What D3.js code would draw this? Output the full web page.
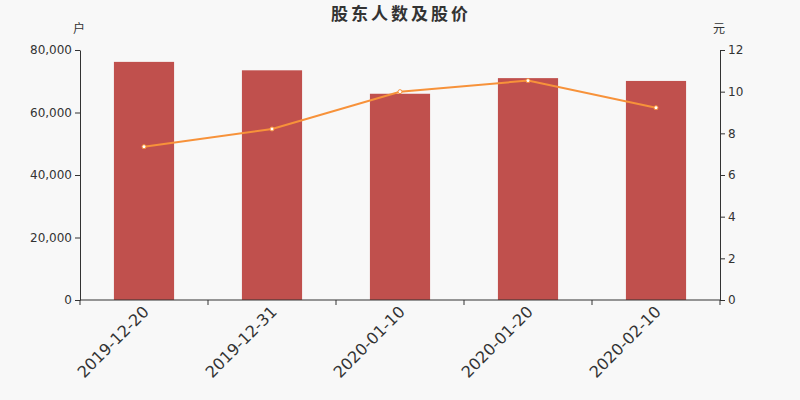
<!DOCTYPE html>
<html>
<head>
<meta charset="utf-8">
<script src="https://cdn.jsdelivr.net/npm/d3@7"></script>
<style>
  body { margin: 0; background: #f8f8f8; }
</style>
</head>
<body>
<svg id="chart" width="800" height="400"></svg>
<script>
// chart data
const dates = ["2019-12-20", "2019-12-31", "2020-01-10", "2020-01-20", "2020-02-10"]
const holders = [76200, 73500, 66000, 71000, 70100]   // 户
const prices = [7.36, 8.21, 10.0, 10.53, 9.23]        // 元
const leftTicks = [0, 20000, 40000, 60000, 80000]
const rightTicks = [0, 2, 4, 6, 8, 10, 12]

const FONT = "'DejaVu Sans', 'Noto Sans CJK SC', sans-serif"

const svg = d3.select("#chart").attr("font-family", FONT)
const m = {top: 50, right: 80, bottom: 100, left: 80}
const w = 800 - m.left - m.right, h = 400 - m.top - m.bottom

svg.append("rect").attr("width", 800).attr("height", 400).attr("fill", "#f8f8f8")

const x = d3.scaleBand().domain(dates).range([0, w]).paddingInner(0.53).paddingOuter(0.265)
const yL = d3.scaleLinear().domain([0, 80000]).range([h, 0])
const yR = d3.scaleLinear().domain([0, 12]).range([h, 0])

const g = svg.append("g").attr("transform", `translate(${m.left},${m.top})`)

// title
svg.append("text").attr("x", 401).attr("y", 20).attr("text-anchor", "middle")
  .attr("font-family", FONT)
  .attr("font-size", 17).attr("font-weight", "bold").attr("fill", "#333")
  .attr("letter-spacing", 3).text("股东人数及股价")

// bars
g.selectAll(".bar").data(holders).enter().append("rect")
  .attr("class", "bar")
  .attr("x", (d, i) => x(dates[i]))
  .attr("y", d => yL(d))
  .attr("width", x.bandwidth())
  .attr("height", d => h - yL(d))
  .attr("fill", "#c0504d")

// price line
const cx = d => x(d) + x.bandwidth() / 2
const line = d3.line().x((d, i) => cx(dates[i])).y(d => yR(d))
g.append("path").datum(prices).attr("d", line)
  .attr("fill", "none").attr("stroke", "#f7923a").attr("stroke-width", 2)
g.selectAll(".pt").data(prices).enter().append("circle")
  .attr("class", "pt")
  .attr("cx", (d, i) => cx(dates[i])).attr("cy", d => yR(d)).attr("r", 2)
  .attr("fill", "#fff").attr("stroke", "#f7923a").attr("stroke-width", 1)

// axes
function styleAxis(sel) {
  sel.attr("font-family", FONT)
  sel.select(".domain").attr("stroke", "#333")
  sel.selectAll(".tick line").attr("stroke", "#333")
  sel.selectAll(".tick text").attr("fill", "#333").attr("font-size", 12)
}

g.append("g")
  .call(d3.axisLeft(yL).tickValues(leftTicks).tickSize(5).tickSizeOuter(0).tickPadding(3).tickFormat(d3.format(",")))
  .call(styleAxis)

g.append("g").attr("transform", `translate(${w},0)`)
  .call(d3.axisRight(yR).tickValues(rightTicks).tickSize(5).tickSizeOuter(0).tickPadding(3))
  .call(styleAxis)

// x axis: ticks at band boundaries
const xb = g.append("g").attr("transform", `translate(0,${h})`).attr("font-family", FONT)
xb.append("line").attr("x1", 0).attr("x2", w).attr("stroke", "#333")
const edges = dates.map(d => x(d) - x.step() * x.paddingInner() / 2).concat([w])
xb.selectAll(".xt").data(edges).enter().append("line")
  .attr("x1", d => d).attr("x2", d => d).attr("y1", 0).attr("y2", 5).attr("stroke", "#333")
xb.selectAll(".xl").data(dates).enter().append("text")
  .attr("transform", d => `translate(${cx(d) - 2},${5}) rotate(-45)`)
  .attr("text-anchor", "end").attr("dy", "0.7em")
  .attr("font-size", 16).attr("fill", "#333")
  .text(d => d)

// unit labels
svg.append("text").attr("x", 79).attr("y", 33).attr("text-anchor", "middle")
  .attr("font-size", 12).attr("fill", "#333").text("户")
svg.append("text").attr("x", 719).attr("y", 33).attr("text-anchor", "middle")
  .attr("font-size", 12).attr("fill", "#333").text("元")
</script>
</body>
</html>
